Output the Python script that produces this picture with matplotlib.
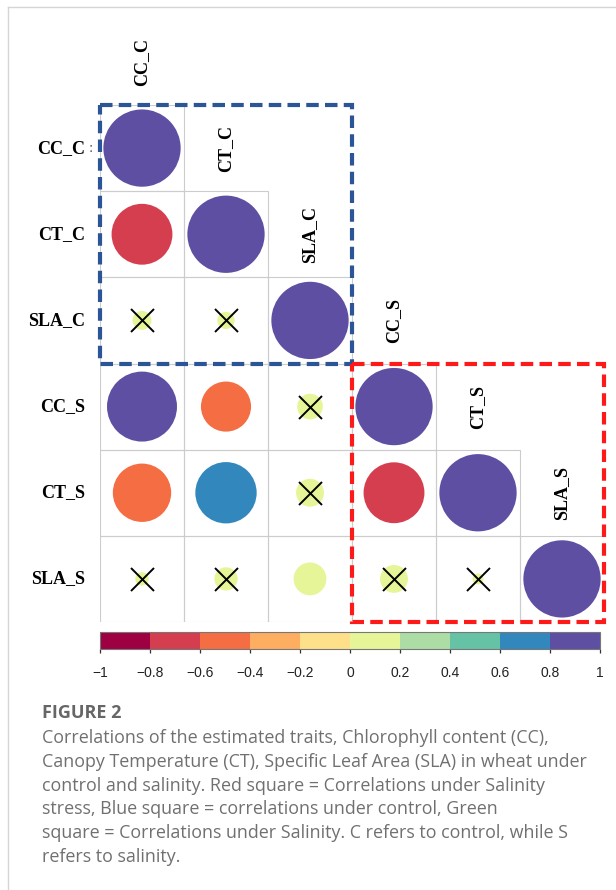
"""
Correlation plot (corrplot style) of wheat traits under control and salinity.
"""

import matplotlib
matplotlib.use("Agg")
import matplotlib.pyplot as plt
import numpy as np
from matplotlib.colors import BoundaryNorm, ListedColormap
from matplotlib.lines import Line2D
from matplotlib.patches import Rectangle

# --- data -------------------------------------------------------------------
traits = ["CC_C", "CT_C", "SLA_C", "CC_S", "CT_S", "SLA_S"]

# lower triangle of the correlation matrix, one list per row
corr_rows = [
    [1.00],
    [-0.62, 1.00],
    [0.06, 0.05, 1.00],
    [0.82, -0.42, 0.11, 1.00],
    [-0.57, 0.63, 0.13, -0.62, 1.00],
    [0.03, 0.09, 0.18, 0.13, 0.02, 1.00],
]

# (row, col) of non-significant correlations, drawn with a cross
insignificant = [(2, 0), (2, 1), (3, 2), (4, 2), (5, 0), (5, 1), (5, 3), (5, 4)]

spectral10 = ["#9E0142", "#D53E4F", "#F46D43", "#FDAE61", "#FEE08B",
              "#E6F598", "#ABDDA4", "#66C2A5", "#3288BD", "#5E4FA2"]
cbar_ticks = [-1, -0.8, -0.6, -0.4, -0.2, 0, 0.2, 0.4, 0.6, 0.8, 1]

caption_title = "FIGURE 2"
caption_lines = [
    "Correlations of the estimated traits, Chlorophyll content (CC),",
    "Canopy Temperature (CT), Specific Leaf Area (SLA) in wheat under",
    "control and salinity. Red square = Correlations under Salinity",
    "stress, Blue square = correlations under control, Green",
    "square = Correlations under Salinity. C refers to control, while S",
    "refers to salinity.",
]

# --- figure -----------------------------------------------------------------
W, H = 616, 890
fig = plt.figure(figsize=(W / 100, H / 100), dpi=100)


def px_rect(x0, y0, x1, y1):
    return [x0 / W, 1 - y1 / H, (x1 - x0) / W, (y1 - y0) / H]


ax = fig.add_axes(px_rect(100, 105, 604, 622))
n = len(traits)
ax.set_xlim(0, n)
ax.set_ylim(n, 0)
ax.axis("off")

cmap = ListedColormap(spectral10)
norm = BoundaryNorm(np.linspace(-1, 1, 11), cmap.N)

xs, ys, vals = [], [], []
for i, row in enumerate(corr_rows):
    for j, v in enumerate(row):
        ax.add_patch(Rectangle((j, i), 1, 1, fill=False, ec="#cccccc",
                               lw=0.8, zorder=1))
        xs.append(j + 0.5)
        ys.append(i + 0.5)
        vals.append(v)
vals = np.array(vals)

# circle diameter ~0.92 of cell width for |r| = 1, area proportional to |r|
cell_px = 84
diam_pt = 0.92 * cell_px * np.sqrt(np.abs(vals)) * 0.72
ax.scatter(xs, ys, s=diam_pt ** 2, c=vals, cmap=cmap, norm=norm,
           linewidths=0, zorder=2)

cx = [j + 0.5 for i, j in insignificant]
cy = [i + 0.5 for i, j in insignificant]
ax.scatter(cx, cy, marker="x", s=(23 * 0.72) ** 2, c="black",
           linewidths=1.4, zorder=3)

# trait labels: rows on the left, columns on the diagonal above
for i, name in enumerate(traits):
    ax.text(-0.18, i + 0.5, name, ha="right", va="center",
            family="Liberation Serif", weight="bold", fontsize=13,
            clip_on=False)
    ax.text(i + 0.5, i - 0.5, name, ha="center", va="center", rotation=90,
            family="Liberation Serif", weight="bold", fontsize=13,
            clip_on=False)
# stray colon left over in the original next to the first row label
ax.text(-0.11, 0.5, ":", ha="center", va="center", family="Liberation Serif",
        fontsize=11, color="#555555", clip_on=False)

# dashed group boxes
ax.add_patch(Rectangle((0, 0), 3, 3, fill=False, ec="#2b5597", lw=3,
                       ls=(0, (3, 1.5)), zorder=4, clip_on=False))
ax.add_patch(Rectangle((3, 3), 3, 3, fill=False, ec="#ff1a1a", lw=3,
                       ls=(0, (3, 1.5)), zorder=4, clip_on=False))

# colour bar
cax = fig.add_axes(px_rect(100, 632, 600, 649))
sm = plt.cm.ScalarMappable(cmap=cmap, norm=norm)
cb = fig.colorbar(sm, cax=cax, orientation="horizontal")
cb.set_ticks(cbar_ticks, labels=[("\u2212" if t < 0 else "") + f"{abs(t):g}"
                                 for t in cbar_ticks])
cb.outline.set_edgecolor("#777777")
cb.outline.set_linewidth(0.8)
cb.ax.tick_params(length=3, width=0.9, color="#333333", pad=9,
                  labelsize=10, labelcolor="#222222",
                  labelfontfamily="Liberation Sans")

# caption
fig.text(42 / W, 1 - 713 / H, caption_title, family="Open Sans",
         weight="bold", fontsize=13, color="#666666", va="center")
for k, line in enumerate(caption_lines):
    fig.text(42 / W, 1 - (738 + 23.8 * k) / H, line, family="Open Sans",
             fontsize=12.9, color="#707070", va="center")

# card border
fig.add_artist(Line2D([8 / W, 1], [1 - 7 / H, 1 - 7 / H], color="#d5d5d5",
                      lw=1))
fig.add_artist(Line2D([8 / W, 8 / W], [1 - 7 / H, 0], color="#d5d5d5", lw=1))

fig.savefig("out.png", dpi=100)
